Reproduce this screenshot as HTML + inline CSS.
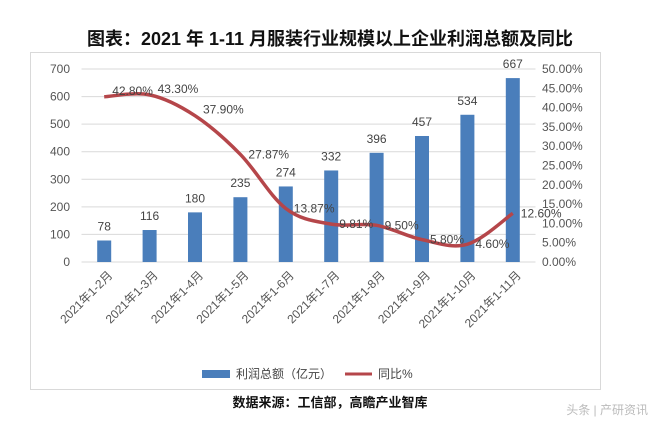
<!DOCTYPE html>
<html><head><meta charset="utf-8"><style>
body{margin:0;background:#fff;width:660px;height:429px;overflow:hidden;font-family:"Liberation Sans","Noto Sans CJK SC",sans-serif}
</style></head><body>
<svg width="660" height="429" id="c" font-family="Liberation Sans, Noto Sans CJK SC, sans-serif">
<text x="330" y="45" text-anchor="middle" font-size="18" font-weight="bold" fill="#111">图表：2021 年 1-11 月服装行业规模以上企业利润总额及同比</text>
<rect x="30.5" y="52.5" width="570" height="337" fill="none" stroke="#d9d9d9"/>
<g id="grid"></g><g id="bars"></g><g id="line"></g><g id="labels"></g>
<g>
<rect x="202" y="370" width="28" height="8" fill="#4a7ebb"/>
<text x="236" y="378" font-size="12" fill="#444">利润总额（亿元）</text>
<line x1="345" y1="374" x2="372" y2="374" stroke="#b5464a" stroke-width="3"/>
<text x="378" y="378" font-size="12" fill="#444">同比%</text>
</g>
<text x="330" y="407" text-anchor="middle" font-size="13" font-weight="bold" fill="#111">数据来源：工信部，高瞻产业智库</text>
<text x="648" y="414" text-anchor="end" font-size="12" fill="#bbb">头条 | 产研资讯</text>
</svg>
<script>
const categories=["2021年1-2月","2021年1-3月","2021年1-4月","2021年1-5月","2021年1-6月","2021年1-7月","2021年1-8月","2021年1-9月","2021年1-10月","2021年1-11月"];
const profit=[78,116,180,235,274,332,396,457,534,667];
const yoy=[42.80,43.30,37.90,27.87,13.87,9.81,9.50,5.80,4.60,12.60];
const leftTicks=[0,100,200,300,400,500,600,700];
const rightTicks=[0,5,10,15,20,25,30,35,40,45,50];
const ns="http://www.w3.org/2000/svg";
const x0=81.5,cw=45.4,yb=262,yt=69;
const xC=i=>x0+cw*(i+0.5);
const yL=v=>yb-(v/700)*(yb-yt);
const yR=v=>yb-(v/50)*(yb-yt);
function mk(t,a,p){const e=document.createElementNS(ns,t);for(const k in a)e.setAttribute(k,a[k]);p.appendChild(e);return e;}
const G=document.getElementById('grid'),B=document.getElementById('bars'),L=document.getElementById('line'),T=document.getElementById('labels');
leftTicks.forEach(v=>{
 const l=mk('line',{x1:x0,x2:x0+cw*10,y1:yL(v),y2:yL(v),stroke:'#d9d9d9'},G);
 
 
 const t=mk('text',{x:70,y:yL(v)+4,'text-anchor':'end','font-size':12,fill:'#555'},G);t.textContent=v;
 
 
});
rightTicks.forEach(v=>{
 const t=mk('text',{x:542,y:yR(v)+4,'font-size':12,fill:'#555'},G);t.textContent=v.toFixed(2)+'%';
 
 
});
profit.forEach((v,i)=>{
 const r=mk('rect',{x:xC(i)-7,y:yL(v),width:14,height:yb-yL(v),fill:'#4a7ebb'},B);
 
 
 const t=mk('text',{x:xC(i),y:yL(v)-10,'text-anchor':'middle','font-size':12,fill:'#444'},T);t.textContent=v;
 
 
 const c=mk('text',{transform:`translate(${xC(i)+9},${yb+14}) rotate(-45)`,'text-anchor':'end','font-size':12,fill:'#555'},T);c.textContent=categories[i];
 
 
});
const pts=yoy.map((v,i)=>[xC(i),yR(v)]);
let d='M'+pts[0][0]+','+pts[0][1];
for(let i=0;i<pts.length-1;i++){
 const p0=pts[i-1]||pts[i],p1=pts[i],p2=pts[i+1],p3=pts[i+2]||p2;
 const k=0.17;
 d+=` C${p1[0]+(p2[0]-p0[0])*k},${p1[1]+(p2[1]-p0[1])*k} ${p2[0]-(p3[0]-p1[0])*k},${p2[1]-(p3[1]-p1[1])*k} ${p2[0]},${p2[1]}`;
}
const pl=mk('path',{d:d,fill:'none',stroke:'#b5464a','stroke-width':3.5},L);


yoy.forEach((v,i)=>{
 const dy=i<3?-2:4;
 const t=mk('text',{x:xC(i)+8,y:yR(v)+dy,'font-size':12,fill:'#444'},T);t.textContent=v.toFixed(2)+'%';
 
 
});
</script>
</body></html>
